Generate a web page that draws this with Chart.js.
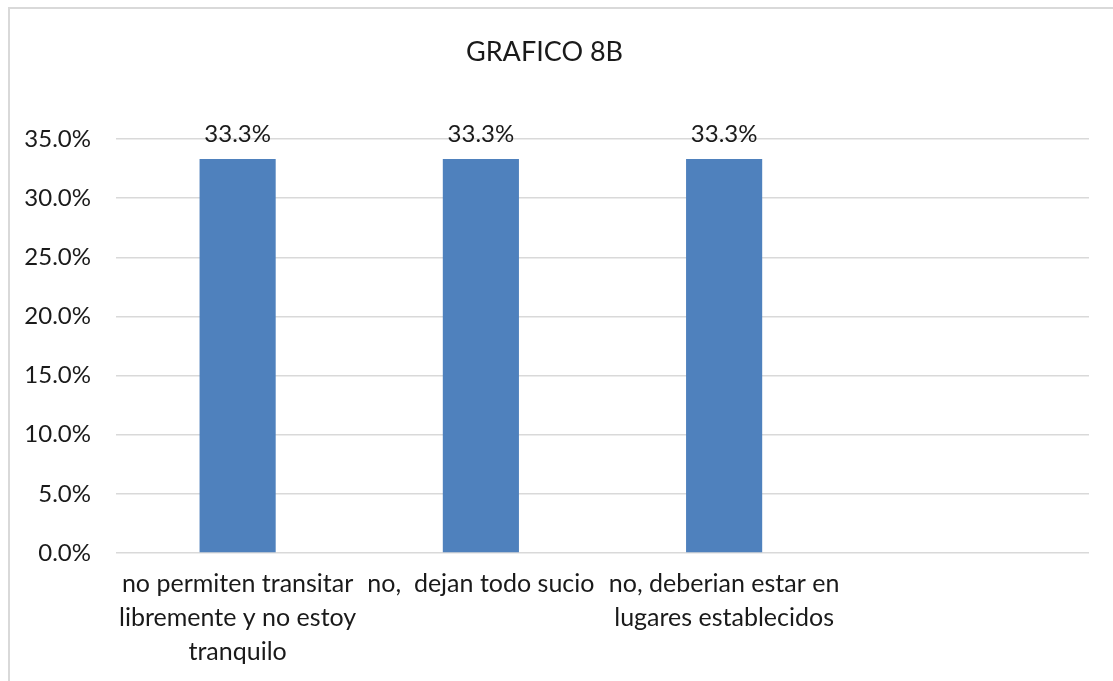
<!DOCTYPE html>
<html>
<head>
<meta charset="utf-8">
<script src="https://cdn.jsdelivr.net/npm/chart.js@4"></script>
<style>
  body { margin: 0; background: #fff; }
  #frame { position: absolute; left: 8px; top: 7px; width: 1200px; height: 800px; border: 2px solid #d9d9d9; }
  #grafico { position: absolute; left: 0; top: 0; }
</style>
</head>
<body>
<div id="frame"></div>
<canvas id="grafico" width="1113" height="681"></canvas>
<script>
var categorias = [
  ["no permiten transitar", "libremente y no estoy", "tranquilo"],
  "no,  dejan todo sucio",
  ["no, deberian estar en", "lugares establecidos"],
  ""
];
var porcentajes = [0.333, 0.333, 0.333, null];
var etiquetas = ["33.3%", "33.3%", "33.3%", ""];

// labels above the bars
var etiquetasBarras = {
  id: "etiquetasBarras",
  afterDatasetsDraw: function (chart) {
    var ctx = chart.ctx;
    var meta = chart.getDatasetMeta(0);
    ctx.save();
    ctx.font = "24px Lato";
    ctx.fillStyle = "#1a1a1a";
    ctx.textAlign = "center";
    ctx.textBaseline = "alphabetic";
    meta.data.forEach(function (bar, i) {
      if (porcentajes[i] == null) return;
      ctx.fillText(etiquetas[i], bar.x, bar.y - 17);
    });
    ctx.restore();
  }
};

var ctx = document.getElementById("grafico").getContext("2d");
var chart = new Chart(ctx, {
  type: "bar",
  data: {
    labels: categorias,
    datasets: [
      {
        label: "GRAFICO 8B",
        data: porcentajes,
        backgroundColor: "#4f81bd",
        borderWidth: 0,
        categoryPercentage: 1,
        barPercentage: 0.313
      }
    ]
  },
  plugins: [etiquetasBarras],
  options: {
    responsive: false,
    animation: false,
    layout: { padding: { left: 0, right: 24, top: 0, bottom: 0 } },
    plugins: {
      legend: { display: false },
      tooltip: { enabled: false },
      title: {
        display: true,
        text: "GRAFICO 8B",
        color: "#1a1a1a",
        font: { family: "Lato", size: 27, weight: "normal" },
        padding: { top: 36, bottom: 70.6 }
      }
    },
    scales: {
      x: {
        grid: { display: false, drawTicks: false },
        border: { display: false },
        ticks: {
          color: "#1a1a1a",
          font: { family: "Lato", size: 25, lineHeight: 1.36 },
          padding: 14,
          maxRotation: 0,
          autoSkip: false
        },
        afterFit: function (scale) { scale.height = 128; }
      },
      y: {
        min: 0,
        max: 0.35,
        grid: { color: "#d9d9d9", lineWidth: 1.5, drawTicks: false },
        border: { display: false },
        ticks: {
          stepSize: 0.05,
          color: "#1a1a1a",
          font: { family: "Lato", size: 24 },
          padding: 25,
          callback: function (v) { return (v * 100).toFixed(1) + "%"; }
        },
        afterFit: function (scale) { scale.width = 116; }
      }
    }
  }
});
</script>
</body>
</html>
